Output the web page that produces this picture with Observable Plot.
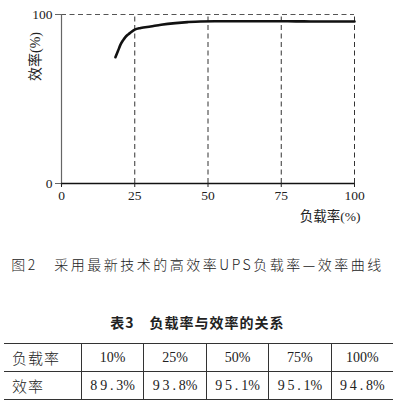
<!DOCTYPE html>
<html><head><meta charset="utf-8">
<script src="https://cdn.jsdelivr.net/npm/d3@7"></script>
<script src="https://cdn.jsdelivr.net/npm/@observablehq/plot@0.6"></script>
<style>
body{margin:0;background:#fff;width:395px;height:407px;overflow:hidden;position:relative;font-family:"Liberation Serif","Noto Sans CJK SC",serif;}
#chart{position:absolute;left:0;top:0;}
#chart svg, #chart svg text{font-family:"Liberation Serif","Noto Sans CJK SC",serif !important;}
#cap{position:absolute;left:0;top:254px;width:395px;text-align:center;font-size:14px;letter-spacing:2.5px;color:#222;font-family:"Noto Sans CJK SC",sans-serif;font-weight:300;white-space:nowrap;}
#ttl{position:absolute;left:0;top:312px;width:395px;text-align:center;font-size:14px;letter-spacing:1px;font-weight:bold;color:#222;font-family:"Noto Sans CJK SC",sans-serif;white-space:nowrap;}
table{position:absolute;left:4px;top:343px;width:389px;border-collapse:collapse;font-size:14px;color:#222;}
td{border:1px solid #333;height:27px;text-align:center;padding:0;font-family:"Liberation Serif","Noto Sans CJK SC",serif;}
td.h{text-align:left;padding-left:8px;font-family:"Noto Sans CJK SC",sans-serif;font-weight:300;font-size:15px;letter-spacing:1px;}
tr td:first-child{border-left:none;}
tr td:last-child{border-right:none;}
</style></head>
<body>
<div id="chart"></div>
<div id="cap"></div>
<div id="ttl"></div>
<table id="tbl"></table>
<script>
// curve data (load %, efficiency %)
const curveLoad = [18.4, 19.3, 20.1, 21.0, 21.8, 22.7, 23.5, 25, 27, 30.4, 34, 38.9, 43, 47.4, 55, 65, 75, 85, 100];
const curveEff  = [74.7, 78.5, 82.0, 84.7, 86.6, 88.1, 89.2, 91.0, 92.0, 92.9, 93.9, 94.9, 95.5, 95.9, 96.0, 96.0, 96.0, 95.9, 95.9];
const xTicks = [0, 25, 50, 75, 100];
const yTicks = [0, 100];
const gridX = [25, 50, 75, 100];
const xLabel = "负载率(%)";
const yLabel = "效率(%)";
const caption = "图2　采用最新技术的高效率UPS负载率—效率曲线";
const tableTitle = "表3　负载率与效率的关系";
const rowHead = ["负载率", "效率"];
const tableLoads = [10, 25, 50, 75, 100];
const tableEff = [89.3, 93.8, 95.1, 95.1, 94.8];

const curve = curveLoad.map((x, i) => ({x, y: curveEff[i]}));

const chart = Plot.plot({
  width: 395, height: 225,
  marginLeft: 61, marginRight: 41, marginTop: 14, marginBottom: 42,
  style: {fontSize: "13px", color: "#222", background: "transparent"},
  x: {domain: [0, 100], ticks: xTicks},
  y: {domain: [0, 100], ticks: yTicks},
  marks: [
    Plot.ruleX(gridX, {y1: 0, y2: 100, stroke: "#333", strokeDasharray: "5,3.5", strokeWidth: 1}),
    Plot.ruleY([100], {x1: 0, x2: 100, stroke: "#555", strokeDasharray: "5,3.5", strokeWidth: 1}),
    Plot.ruleX([0], {y1: -1.5, y2: 100, stroke: "#666", strokeWidth: 1.2}),
    Plot.ruleY([0], {stroke: "#111", strokeWidth: 1.3}),
    Plot.axisX({ticks: xTicks, tickSize: 4, tickPadding: 3, label: null, fontSize: 13.5}),
    Plot.axisY({ticks: yTicks, tickSize: 6, tickPadding: 3, label: null, fontSize: 13.5, stroke: "#666"}),
    Plot.text([xLabel], {frameAnchor: "bottom-right", dy: 37, dx: 6, fontSize: 13.5}),
    Plot.text([yLabel], {frameAnchor: "top-left", textAnchor: "middle", lineAnchor: "middle", rotate: -90, dx: -26, dy: 42, fontSize: 14}),
    Plot.line(curve, {x: "x", y: "y", stroke: "#111", strokeWidth: 2.6, curve: "monotone-x"})
  ]
});
document.getElementById("chart").append(chart);
document.getElementById("cap").textContent = caption;
document.getElementById("ttl").textContent = tableTitle;

const tbl = document.getElementById("tbl");
const r1 = tbl.insertRow(), r2 = tbl.insertRow();
let c = r1.insertCell(); c.textContent = rowHead[0]; c.className = "h";
c = r2.insertCell(); c.textContent = rowHead[1]; c.className = "h";
tableLoads.forEach((v, i) => {
  r1.insertCell().textContent = v + "%";
  r2.insertCell().textContent = tableEff[i].toFixed(1).split("").join("\u2009") + "%";
});
</script>
</body></html>
